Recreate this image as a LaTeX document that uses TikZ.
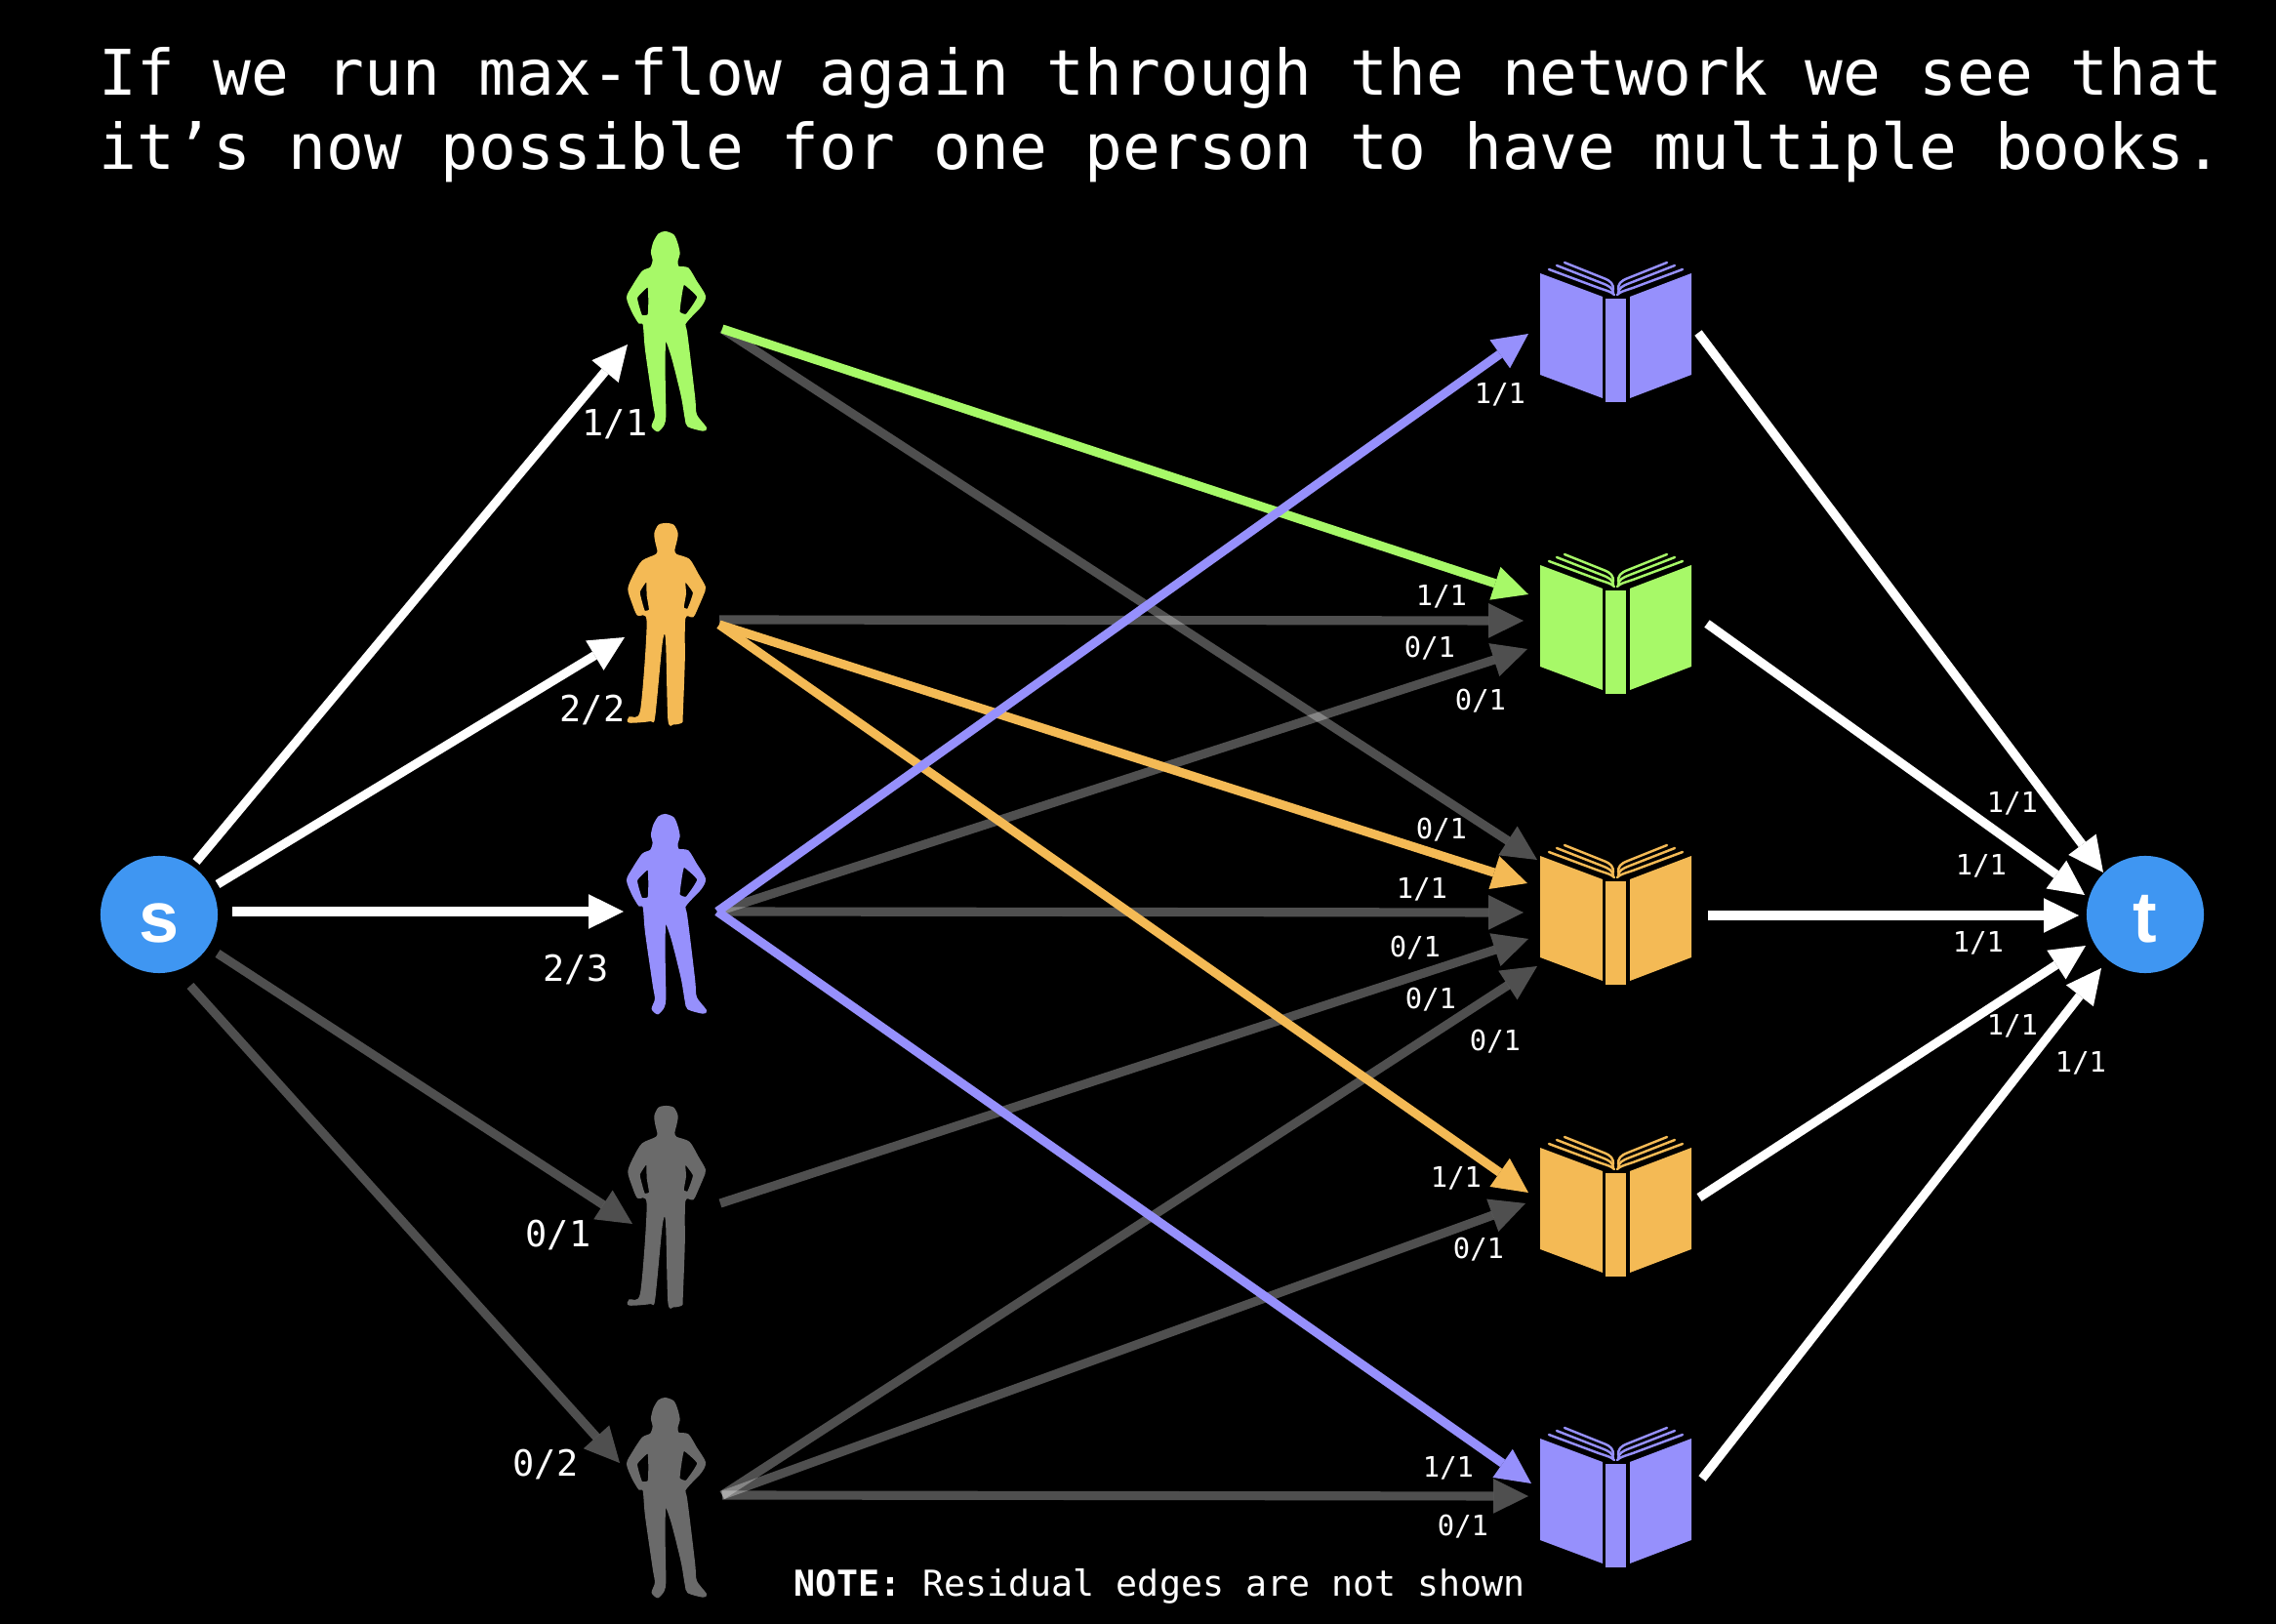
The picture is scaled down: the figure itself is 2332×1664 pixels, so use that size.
\documentclass[tikz,border=0pt]{standalone}
\usepackage{fontspec}
\usetikzlibrary{arrows.meta}
\newfontfamily\monof{DejaVu Sans Mono}
\newfontfamily\sansf{Liberation Sans}
\definecolor{pgreen}{HTML}{A7F968}
\definecolor{porange}{HTML}{F4BA55}
\definecolor{ppurple}{HTML}{9690FC}
\definecolor{pgrey}{HTML}{6A6A6A}
\definecolor{nblue}{HTML}{3F96F2}
\tikzset{
  flow/.style={line width=2.6pt,-{Triangle[length=10.2pt,width=10.1pt,line width=0pt]}},
  wflow/.style={flow,white},
  gflow/.style={flow,white,opacity=0.31},
  anchorbox/.style={inner sep=0pt,minimum size=0pt,draw=none},
  terminal/.style={circle,fill=nblue,text=white,inner sep=0pt,minimum size=1.2cm,text height=0.56cm,text depth=0pt,font=\sansf\bfseries\fontsize{21}{21}\selectfont},
  biglab/.style={text=white,inner sep=0pt,font=\monof\fontsize{10.5}{12}\selectfont},
  smalllab/.style={text=white,inner sep=0pt,font=\monof\fontsize{8.2}{10}\selectfont},
  titleline/.style={text=white,inner sep=0pt,anchor=west,font=\monof\fontsize{18.35}{22}\selectfont},
  female/.pic={
    \begin{scope}[shift={(-62,-115)},scale=0.3333]
      \filldraw[even odd rule,line width=0.4pt]
        plot[smooth cycle,tension=0.45] coordinates {(185,38)(210,48)(222,75)(228,105)(222,125)(225,145)(255,150)(280,190)(307,235)(295,265)(262,300)(245,322)(250,345)(262,440)(275,550)(280,600)(310,640)(300,648)(255,635)(247,610)(235,540)(205,420)(185,372)(183,480)(185,600)(180,630)(162,650)(145,635)(155,605)(148,560)(125,400)(118,322)(105,318)(85,285)(68,240)(85,205)(115,160)(140,148)(148,125)(143,100)(150,70)(165,45)}
        plot[smooth cycle,tension=0.25] coordinates {(132,205)(97,240)(112,295)(133,293)(135,250)}
        plot[smooth cycle,tension=0.25] coordinates {(242,198)(285,238)(250,292)(228,285)(232,245)};
    \end{scope}
  },
  male/.pic={
    \begin{scope}[shift={(-82,-119)},scale=0.3333]
      \filldraw[even odd rule,line width=0.4pt]
        plot[smooth cycle,tension=0.45] coordinates {(247,50)(270,55)(282,80)(277,110)(272,130)(278,145)(318,160)(345,205)(367,245)(360,270)(345,305)(330,335)(305,340)(303,480)(297,640)(295,660)(270,665)(255,650)(248,405)(235,410)(212,640)(200,655)(135,660)(135,645)(170,625)(190,350)(160,330)(145,295)(132,250)(150,205)(175,165)(218,145)(222,130)(217,110)(213,80)(225,55)}
        plot[smooth cycle,tension=0.25] coordinates {(188,225)(165,260)(180,318)(197,315)(190,270)}
        plot[smooth cycle,tension=0.25] coordinates {(305,225)(332,262)(315,312)(300,308)(307,265)};
    \end{scope}
  },
  book/.pic={
    \fill (-77,-61) -- (-13,-37) -- (-13,67) -- (-77,43) -- cycle;
    \fill (15,-37) -- (78,-61) -- (78,43) -- (15,67) -- cycle;
    \fill (-10,-35) rectangle (11,71);
    \draw[line width=0.7pt,line cap=round] (-52,-72) -- (-12,-56) .. controls (-4,-53) and (-2,-50) .. (-2,-44);
    \draw[line width=0.7pt,line cap=round] (-60,-69) -- (-14,-51) .. controls (-6,-48) and (-3,-46) .. (-2,-41);
    \draw[line width=0.7pt,line cap=round] (-68,-65) -- (-17,-46) .. controls (-8,-43) and (-4,-42) .. (-1,-39);
    \draw[line width=0.7pt,line cap=round] (53,-72) -- (13,-56) .. controls (5,-53) and (3,-50) .. (3,-44);
    \draw[line width=0.7pt,line cap=round] (61,-69) -- (15,-51) .. controls (7,-48) and (4,-46) .. (3,-41);
    \draw[line width=0.7pt,line cap=round] (69,-65) -- (18,-46) .. controls (9,-43) and (5,-42) .. (2,-39);
  }
}
\begin{document}
\begin{tikzpicture}[x=0.01cm,y=-0.01cm]
\fill[black] (0,0) rectangle (2332,1664);
\useasboundingbox (0,0) rectangle (2332,1664);

\node[titleline] (title1) at (101,80) {If we run max-flow again through the network we see that};
\node[titleline] (title2) at (101,156) {it’s now possible for one person to have multiple books.};

% nodes
\node[terminal] (s) at (163,937) {s};
\node[terminal] (t) at (2198,937) {t};
\node[anchorbox] (p1) at (682,340) {};
\node[anchorbox] (p2) at (682,639) {};
\node[anchorbox] (p3) at (682,937) {};
\node[anchorbox] (p4) at (682,1236) {};
\node[anchorbox] (p5) at (682,1535) {};
\node[anchorbox] (b1) at (1655,341) {};
\node[anchorbox] (b2) at (1655,640) {};
\node[anchorbox] (b3) at (1655,938) {};
\node[anchorbox] (b4) at (1655,1237) {};
\node[anchorbox] (b5) at (1655,1535) {};

\pic[color=pgreen] at (p1) {female};
\pic[color=porange] at (p2) {male};
\pic[color=ppurple] at (p3) {female};
\pic[color=pgrey] at (p4) {male};
\pic[color=pgrey] at (p5) {female};
\pic[color=ppurple] at (b1) {book};
\pic[color=pgreen] at (b2) {book};
\pic[color=porange] at (b3) {book};
\pic[color=porange] at (b4) {book};
\pic[color=ppurple] at (b5) {book};

% grey edges
\draw[gflow] ([shift={(60,40)}]s.center) -- ([shift={(-34,18)}]p4.center);
\draw[gflow] ([shift={(32,73)}]s.center) -- ([shift={(-47,-36)}]p5.center);
\draw[gflow] ([shift={(58,-3)}]p1.center) -- ([shift={(-80,-57)}]b3.center);
\draw[gflow] ([shift={(55,-4)}]p2.center) -- ([shift={(-94,-4)}]b2.center);
\draw[gflow] ([shift={(53,-3)}]p3.center) -- ([shift={(-90,25)}]b2.center);
\draw[gflow] ([shift={(53,-3)}]p3.center) -- ([shift={(-94,-3)}]b3.center);
\draw[gflow] ([shift={(56,-3)}]p4.center) -- ([shift={(-89,24)}]b3.center);
\draw[gflow] ([shift={(58,-3)}]p5.center) -- ([shift={(-80,52)}]b3.center);
\draw[gflow] ([shift={(58,-3)}]p5.center) -- ([shift={(-92,-4)}]b4.center);
\draw[gflow] ([shift={(58,-3)}]p5.center) -- ([shift={(-89,-2)}]b5.center);

% coloured edges
\draw[flow,pgreen] ([shift={(58,-3)}]p1.center) -- ([shift={(-89,-31)}]b2.center);
\draw[flow,porange] ([shift={(55,1)}]p2.center) -- ([shift={(-90,-33)}]b3.center);
\draw[flow,porange] ([shift={(55,1)}]p2.center) -- ([shift={(-89,-15)}]b4.center);
\draw[flow,ppurple] ([shift={(53,-3)}]p3.center) -- ([shift={(-89,1)}]b1.center);
\draw[flow,ppurple] ([shift={(53,-3)}]p3.center) -- ([shift={(-86,-15)}]b5.center);

% white edges
\draw[wflow] ([shift={(38,-54)}]s.center) -- ([shift={(-39,13)}]p1.center);
\draw[wflow] ([shift={(60,-31)}]s.center) -- ([shift={(-42,14)}]p2.center);
\draw[wflow] ([shift={(75,-3)}]s.center) -- ([shift={(-43,-3)}]p3.center);
\draw[wflow] ([shift={(85,0)}]b1.center) -- ([shift={(-43,-43)}]t.center);
\draw[wflow] ([shift={(94,-1)}]b2.center) -- ([shift={(-62,-20)}]t.center);
\draw[wflow] ([shift={(95,0)}]b3.center) -- ([shift={(-68,1)}]t.center);
\draw[wflow] ([shift={(86,-10)}]b4.center) -- ([shift={(-61,32)}]t.center);
\draw[wflow] ([shift={(89,-20)}]b5.center) -- ([shift={(-45,55)}]t.center);

% labels
\node[biglab] (l1) at (630,434.5) {1/1};
\node[biglab] (l2) at (607,727.5) {2/2};
\node[biglab] (l3) at (590,993.5) {2/3};
\node[biglab] (l4) at (572,1265.5) {0/1};
\node[biglab] (l5) at (559,1500.5) {0/2};

\node[smalllab] (m1) at (1537,404.5) {1/1};
\node[smalllab] (m2) at (1477,611.5) {1/1};
\node[smalllab] (m3) at (1465,664.5) {0/1};
\node[smalllab] (m4) at (1517,718.5) {0/1};
\node[smalllab] (m5) at (1477,850.5) {0/1};
\node[smalllab] (m6) at (1457,911.5) {1/1};
\node[smalllab] (m7) at (1450,971.5) {0/1};
\node[smalllab] (m8) at (1466,1024.5) {0/1};
\node[smalllab] (m9) at (1532,1067.5) {0/1};
\node[smalllab] (m10) at (1492,1207.5) {1/1};
\node[smalllab] (m11) at (1515,1280.5) {0/1};
\node[smalllab] (m12) at (1484,1504.5) {1/1};
\node[smalllab] (m13) at (1499,1564.5) {0/1};

\node[smalllab] (r1) at (2062,823.5) {1/1};
\node[smalllab] (r2) at (2030,887.5) {1/1};
\node[smalllab] (r3) at (2027,966.5) {1/1};
\node[smalllab] (r4) at (2062,1051.5) {1/1};
\node[smalllab] (r5) at (2132,1089.5) {1/1};

\node[biglab,anchor=west,font=\monof\fontsize{10.4}{12}\selectfont] (note) at (813,1625) {\textbf{NOTE:} Residual edges are not shown};
\end{tikzpicture}
\end{document}
